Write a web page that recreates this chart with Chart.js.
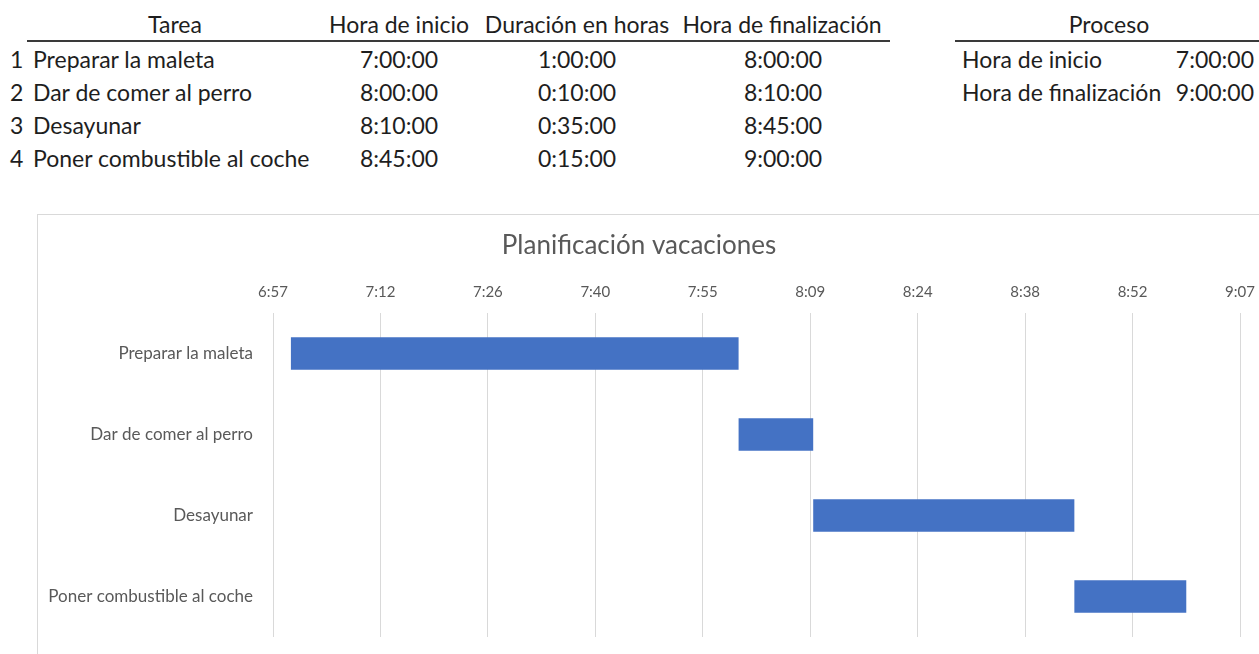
<!DOCTYPE html>
<html lang="es">
<head>
<meta charset="utf-8">
<title>Planificación vacaciones</title>
<script src="https://cdn.jsdelivr.net/npm/chart.js@4.4.1/dist/chart.umd.min.js"></script>
<style>
  html, body { margin: 0; padding: 0; background: #fff; overflow: hidden; }
  body { width: 1259px; height: 654px; position: relative; font-family: Lato, "Open Sans", sans-serif; color: #1e1e1e; }
  .cell { position: absolute; font-size: 23px; line-height: 28px; white-space: nowrap; }
  .rule { position: absolute; height: 2px; background: #3a3a3a; }
  #chartBox { position: absolute; left: 37px; top: 214px; width: 1240px; height: 460px; border: 1px solid #d9d9d9; box-sizing: border-box; }
</style>
</head>
<body>
<div id="sheet"></div>
<div id="chartBox"><canvas id="gantt"></canvas></div>
<script>
// tareas del viaje
const tasks = ['Preparar la maleta', 'Dar de comer al perro', 'Desayunar', 'Poner combustible al coche'];
const startTimes = ['7:00:00', '8:00:00', '8:10:00', '8:45:00'];
const durations = ['1:00:00', '0:10:00', '0:35:00', '0:15:00'];

// eje horizontal: 0,29 a 0,38 días, salto de 0,01 días (14,4 min)
const tickLabels = ['6:57', '7:12', '7:26', '7:40', '7:55', '8:09', '8:24', '8:38', '8:52', '9:07'];
const axisStart = 417.6;
const axisStep = 14.4;

function toMinutes(t) {
    const [h, m, s] = t.split(':').map(Number);
    return h * 60 + m + s / 60;
}

function fmt(min) {
    const h = Math.floor(min / 60);
    const m = Math.round(min - h * 60);
    return h + ':' + String(m).padStart(2, '0') + ':00';
}

const startMin = startTimes.map(toMinutes);
const durMin = durations.map(toMinutes);
const endMin = startMin.map((s, i) => s + durMin[i]);

// --- tabla de la hoja ---
const sheet = document.getElementById('sheet');

function cell(text, x, y, align) {
    const d = document.createElement('div');
    d.className = 'cell';
    d.textContent = text;
    if (align === 'center') {
        d.style.left = (x - 150) + 'px';
        d.style.width = '300px';
        d.style.textAlign = 'center';
    } else if (align === 'right') {
        d.style.left = (x - 300) + 'px';
        d.style.width = '300px';
        d.style.textAlign = 'right';
    } else {
        d.style.left = x + 'px';
    }
    d.style.top = (y - 14) + 'px';
    sheet.appendChild(d);
}

function rule(x, w, y) {
    const d = document.createElement('div');
    d.className = 'rule';
    d.style.left = x + 'px';
    d.style.width = w + 'px';
    d.style.top = y + 'px';
    sheet.appendChild(d);
}

const headerY = 24;
const rowY = [59, 92, 125, 158];

cell('Tarea', 175, headerY, 'center');
cell('Hora de inicio', 399, headerY, 'center');
cell('Duración en horas', 577, headerY, 'center');
cell('Hora de finalización', 782, headerY, 'center');
rule(27, 863, 40);

tasks.forEach((t, i) => {
    cell(String(i + 1), 10, rowY[i]);
    cell(t, 33, rowY[i]);
    cell(startTimes[i], 399, rowY[i], 'center');
    cell(durations[i], 577, rowY[i], 'center');
    cell(fmt(endMin[i]), 783, rowY[i], 'center');
});

cell('Proceso', 1109, headerY, 'center');
rule(955, 320, 40);
cell('Hora de inicio', 962, rowY[0]);
cell(fmt(Math.min(...startMin)), 1254, rowY[0], 'right');
cell('Hora de finalización', 962, rowY[1]);
cell(fmt(Math.max(...endMin)), 1254, rowY[1], 'right');

// --- diagrama de Gantt ---
const bars = startMin.map((s, i) => [s, endMin[i]]);

new Chart(document.getElementById('gantt'), {
    type: 'bar',
    data: {
        labels: tasks,
        datasets: [{
            data: bars,
            backgroundColor: '#4472C4',
            borderWidth: 0,
            categoryPercentage: 1,
            barPercentage: 0.4
        }]
    },
    options: {
        indexAxis: 'y',
        responsive: true,
        maintainAspectRatio: false,
        animation: false,
        layout: { padding: { left: 0, right: 36, top: 0, bottom: 36 } },
        plugins: {
            legend: { display: false },
            tooltip: { enabled: false },
            title: {
                display: true,
                text: 'Planificación vacaciones',
                color: '#595959',
                font: { family: 'Lato', size: 26, weight: 'normal' },
                padding: { top: 15, bottom: 0 }
            }
        },
        scales: {
            x: {
                type: 'linear',
                position: 'top',
                min: axisStart,
                max: axisStart + axisStep * (tickLabels.length - 1),
                afterBuildTicks: scale => {
                    scale.ticks = tickLabels.map((_, i) => ({ value: axisStart + i * axisStep }));
                },
                afterFit: scale => { scale.height = 51.8; },
                grid: { color: '#d9d9d9', lineWidth: 1, drawTicks: false },
                border: { display: false },
                ticks: {
                    padding: 12,
                    color: '#595959',
                    autoSkip: false,
                    maxRotation: 0,
                    font: { family: 'Lato', size: 15 },
                    callback: (v, i) => tickLabels[i]
                }
            },
            y: {
                afterFit: scale => { scale.width = 235; },
                grid: { display: false, drawTicks: false },
                border: { display: false },
                ticks: {
                    padding: 20,
                    color: '#595959',
                    font: { family: 'Lato', size: 17 }
                }
            }
        }
    }
});
</script>
</body>
</html>
